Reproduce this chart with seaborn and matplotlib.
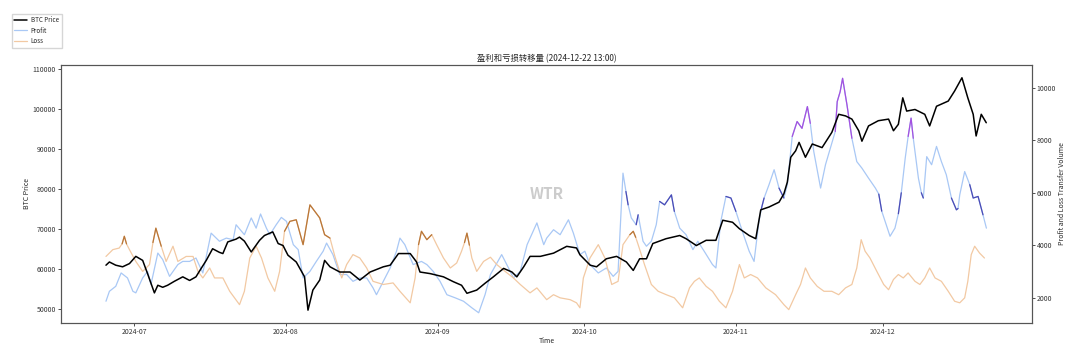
import numpy as np
import pandas as pd
import seaborn as sns
import matplotlib.pyplot as plt
import matplotlib.dates as mdates
from matplotlib.lines import Line2D

# time is given as days since 2024-07-01 00:00
price_day = [-5.8, -5.1, -3.8, -2.4, -1.0, 0.3, 1.7, 2.7, 4.1, 4.8, 5.8, 6.8, 8.2, 9.9, 11.3,
             12.6, 13.3, 14.7, 16.0, 17.4, 18.1, 19.1, 20.8, 21.5, 22.5, 23.9, 25.6, 26.6, 28.3,
             29.4, 30.4, 31.4, 33.1, 34.8, 35.5, 36.5, 37.9, 38.9, 40.0, 42.0, 44.1, 46.1, 48.2,
             50.9, 52.3, 54.0, 56.4, 57.7, 58.4, 60.5, 63.2, 65.2, 66.9, 68.0, 70.0, 71.7, 73.4,
             75.5, 77.2, 78.2, 79.6, 80.9, 83.0, 85.7, 88.4, 90.4, 91.1, 93.2, 94.5, 96.5, 98.6,
             100.6, 102.0, 103.3, 104.7, 106.0, 108.7, 111.5, 112.8, 114.9, 116.9, 118.9, 120.3,
             122.3, 123.7, 125.7, 127.05, 128.07, 129.76, 131.8, 132.8, 133.5, 134.2, 135.2, 135.9,
             137.2, 138.6, 140.6, 142.6, 144.0, 145.4, 146.7, 148.1, 148.75, 150.1, 152.1, 154.2,
             155.2, 156.2, 157.1, 157.9, 159.6, 161.6, 162.6, 164.0, 166.4, 167.7, 169.2, 170.4,
             171.5, 172.1, 173.15, 174.17]
price = [61000, 61800, 61000, 60600, 61400, 63200, 62200, 58900, 54100, 56000, 55500, 56000, 57000,
         58100, 57200, 58100, 59500, 62200, 65100, 64200, 63900, 66800, 67500, 68000, 67000, 64300,
         67200, 68400, 69300, 66400, 65900, 63500, 61800, 58100, 49800, 54800, 57300, 62200, 60600,
         59300, 59300, 57300, 59300, 60600, 61000, 63900, 63900, 61800, 59300, 58900, 58100, 56900,
         56000, 54000, 54800, 56500, 58100, 60200, 59300, 58100, 60600, 63200, 63200, 64000, 65700,
         65300, 63600, 61000, 60600, 62600, 63200, 61800, 59700, 62600, 62600, 66400, 67600, 68400,
         67600, 65900, 67200, 67200, 72200, 71700, 70100, 68400, 67600, 74800, 75500, 76700, 78800,
         81700, 87900, 89500, 91600, 87900, 91200, 90300, 94100, 98600, 98200, 97400, 94500, 91900,
         95700, 97000, 97400, 94500, 96100, 102700, 99400, 99800, 98600, 95700, 100600, 101900,
         104400, 107700, 102700, 98600, 93200, 98600, 96500]

profit_day = [-5.8, -5.1, -3.8, -2.7, -1.4, -0.3, 0.3, 1.7, 2.7, 3.4, 4.8, 5.8, 7.2, 8.9, 9.9,
              11.3, 12.6, 14.0, 15.7, 17.4, 18.8, 20.2, 20.8, 22.5, 23.9, 24.9, 25.8, 27.0, 27.7,
              29.0, 30.05, 31.1, 32.5, 33.5, 34.5, 35.9, 37.2, 38.6, 39.3, 40.6, 42.0, 43.4, 44.7,
              46.1, 47.5, 48.8, 49.5, 50.9, 52.3, 53.6, 54.3, 55.3, 57.0, 58.7, 59.8, 61.1, 62.5,
              63.9, 65.6, 67.3, 69.0, 70.4, 71.7, 72.8, 75.1, 76.5, 77.5, 78.9, 80.3, 82.3, 83.7,
              84.3, 85.7, 87.05, 88.75, 89.76, 91.1, 92.1, 93.15, 94.85, 96.5, 97.9, 98.9, 99.9,
              100.5, 100.95, 101.6, 102.6, 103.0, 104.0, 104.7, 105.7, 106.7, 107.4, 108.4, 109.8,
              110.4, 111.5, 112.8, 114.2, 115.2, 116.5, 118.2, 118.9, 119.9, 120.95, 121.97, 122.98,
              124.3, 125.7, 126.7, 127.7, 128.2, 128.75, 129.76, 130.8, 131.8, 132.8, 133.5, 134.5,
              135.5, 136.5, 137.6, 138.2, 138.9, 140.3, 141.3, 142.3, 143.3, 143.7, 144.3, 144.8,
              145.7, 146.7, 147.7, 148.75, 150.1, 151.5, 152.2, 152.8, 153.5, 154.5, 155.5, 156.2,
              156.8, 157.6, 158.2, 158.8, 159.25, 160.3, 160.9, 161.3, 162.0, 163.0, 164.0, 165.0,
              166.0, 167.05, 168.07, 168.4, 168.75, 169.76, 170.8, 171.5, 172.5, 173.5, 174.2]
profit = [1860, 2240, 2430, 2940, 2750, 2240, 2180, 2750, 3000, 2500, 3700, 3450, 2810, 3260, 3380,
          3380, 3510, 2940, 4460, 4150, 4270, 4210, 4780, 4400, 5040, 4650, 5190, 4650, 4400, 4780,
          5060, 4910, 4020, 3830, 2750, 3000, 3380, 3770, 4080, 3640, 2880, 2880, 2620, 2750, 2750,
          2370, 2110, 2620, 3130, 3770, 4270, 4020, 3260, 3380, 3260, 3000, 2620, 2110, 1990, 1860,
          1610, 1420, 2110, 2880, 3640, 3130, 2750, 3000, 4020, 4850, 4020, 4270, 4590, 4400, 4970,
          4460, 3640, 3770, 3260, 2940, 3130, 2810, 3000, 6750, 6050, 5540, 5040, 4780, 5160, 4150,
          3960, 4150, 4780, 5670, 5540, 5920, 5290, 4650, 4400, 3830, 4150, 3770, 3260, 3130, 4910,
          5860, 5800, 5290, 4530, 3770, 3380, 4910, 5400, 5800, 6310, 6880, 6180, 5800, 6310, 8150,
          8720, 8460, 9290, 8650, 7580, 6180, 7070, 7700, 8340, 9480, 9860, 10370, 9350, 8080, 7190,
          6940, 6560, 6180, 5950, 5300, 4910, 4340, 4650, 5200, 6000, 7320, 8150, 8850, 8080, 6560,
          6000, 5800, 7380, 7070, 7770, 7190, 6690, 5800, 5350, 5400, 5920, 6810, 6310, 5800, 5860,
          5160, 4650]

loss_day = [-5.8, -4.4, -3.1, -2.5, -2.05, -1.6, -1.0, 0.3, 1.7, 3.1, 3.8, 4.4, 5.5, 6.5, 7.9,
            8.9, 10.6, 12.0, 13.0, 14.0, 15.4, 16.4, 18.1, 19.5, 21.5, 22.5, 23.6, 24.9, 26.0, 27.3,
            28.7, 29.7, 30.7, 31.8, 33.1, 34.5, 35.9, 36.9, 37.9, 38.9, 40.0, 41.0, 42.4, 43.4, 44.7,
            46.1, 47.5, 48.8, 50.9, 52.9, 54.3, 56.4, 57.4, 58.1, 58.7, 59.8, 60.8, 61.8, 63.2, 64.6,
            65.9, 66.9, 67.5, 68.0, 68.5, 69.0, 70.0, 71.4, 72.8, 74.1, 75.8, 77.5, 78.9, 80.9, 82.3,
            84.3, 85.7, 87.05, 89.1, 90.4, 91.1, 91.8, 93.15, 94.85, 96.2, 97.6, 98.9, 99.9, 101.3,
            102.0, 102.5, 103.0, 104.3, 105.7, 107.1, 108.75, 110.4, 112.1, 113.5, 114.5, 115.5,
            116.9, 118.2, 119.6, 120.95, 122.3, 123.7, 124.7, 126.0, 127.4, 129.1, 131.1, 132.8,
            133.8, 135.2, 136.2, 137.2, 138.2, 139.6, 141.0, 142.6, 144.0, 145.4, 146.7, 147.7,
            148.6, 149.4, 150.4, 151.8, 153.2, 154.2, 155.2, 156.2, 157.2, 158.2, 159.6, 160.6,
            161.6, 162.6, 163.7, 165.0, 166.4, 167.7, 168.75, 169.76, 170.4, 171.1, 171.8, 172.8,
            173.8]
loss = [3570, 3830, 3890, 4050, 4340, 4050, 3830, 3380, 3000, 3260, 4100, 4650, 3960, 3380, 3960,
        3380, 3570, 3570, 3000, 2750, 3130, 2750, 2750, 2240, 1730, 2240, 3510, 3960, 3510, 2750,
        2240, 3000, 4530, 4910, 4970, 4020, 5540, 5290, 5040, 4400, 4270, 3570, 2750, 3260, 3640,
        3510, 3130, 2620, 2500, 2560, 2240, 1800, 2750, 4020, 4530, 4210, 4400, 4020, 3510, 3130,
        3320, 3770, 4100, 4460, 4000, 3510, 3000, 3380, 3540, 3260, 3000, 2750, 2500, 2180, 2370,
        1920, 2110, 1990, 1920, 1800, 1610, 2750, 3510, 4020, 3510, 2500, 2620, 4020, 4400, 4530,
        4300, 4020, 3260, 2500, 2240, 2110, 1990, 1610, 2370, 2620, 2750, 2430, 2240, 1860, 1610,
        2240, 3260, 2750, 2880, 2750, 2370, 2110, 1730, 1540, 2110, 2500, 3130, 2750, 2430, 2240,
        2240, 2110, 2370, 2500, 3130, 4210, 3770, 3510, 3000, 2500, 2300, 2690, 2880, 2750, 2940,
        2620, 2500, 2750, 3130, 2750, 2620, 2240, 1860, 1800, 1990, 2620, 3640, 3960, 3700, 3510]

# highlighted stretches (days since 2024-07-01)
profit_blue = [(100.4, 101.0), (102.6, 103.0), (107.0, 110.5), (120.5, 123.0), (128.2, 128.8),
               (131.8, 132.8), (152.2, 152.8), (156.2, 156.8), (160.9, 161.3), (166.8, 168.4),
               (170.8, 173.5)]
profit_purple = [(134.5, 138.2), (143.3, 146.7), (158.2, 159.25)]
loss_dark = [(-2.5, -1.6), (3.8, 5.5), (30.7, 40.0), (58.1, 60.8), (67.5, 68.5), (101.3, 102.5)]

start = pd.Timestamp("2024-07-01")
df_price = pd.DataFrame({"time": start + pd.to_timedelta(price_day, unit="D"), "value": price, "day": price_day})
df_profit = pd.DataFrame({"time": start + pd.to_timedelta(profit_day, unit="D"), "value": profit, "day": profit_day})
df_loss = pd.DataFrame({"time": start + pd.to_timedelta(loss_day, unit="D"), "value": loss, "day": loss_day})

sns.set_theme(style="white")
plt.rcParams['font.family'] = ['Noto Sans CJK SC', 'DejaVu Sans']
plt.rcParams['axes.unicode_minus'] = False

fig = plt.figure(figsize=(10.66, 3.51), dpi=100)
ax = fig.add_axes([0.0572, 0.0798, 0.9108, 0.7352])
ax2 = ax.twinx()

c_profit = "#a9c8f5"
c_loss = "#f2c9a3"

sns.lineplot(data=df_profit, x="time", y="value", color=c_profit, lw=0.9, ax=ax2, legend=False)
sns.lineplot(data=df_loss, x="time", y="value", color=c_loss, lw=0.9, ax=ax2, legend=False)
for lo, hi in profit_blue:
    seg = df_profit[(df_profit.day >= lo) & (df_profit.day <= hi)]
    sns.lineplot(data=seg, x="time", y="value", color="#4b4bb5", lw=0.9, ax=ax2, legend=False)
for lo, hi in profit_purple:
    seg = df_profit[(df_profit.day >= lo) & (df_profit.day <= hi)]
    sns.lineplot(data=seg, x="time", y="value", color="#a450e0", lw=0.9, ax=ax2, legend=False)
for lo, hi in loss_dark:
    seg = df_loss[(df_loss.day >= lo) & (df_loss.day <= hi)]
    sns.lineplot(data=seg, x="time", y="value", color="#b87638", lw=0.9, ax=ax2, legend=False)

sns.lineplot(data=df_price, x="time", y="value", color="black", lw=1.1, ax=ax, legend=False)
ax.set_zorder(ax2.get_zorder() + 1)
ax.patch.set_visible(False)

ax.set_ylim(46600, 110900)
ax2.set_ylim(1030, 10880)
ax.set_xlim(pd.Timestamp("2024-06-16"), pd.Timestamp("2024-12-31 12:00"))

ax.xaxis.set_major_locator(mdates.MonthLocator())
ax.xaxis.set_major_formatter(mdates.DateFormatter("%Y-%m"))
ax.set_yticks([50000, 60000, 70000, 80000, 90000, 100000, 110000])
ax2.set_yticks([2000, 4000, 6000, 8000, 10000])

for a in (ax, ax2):
    a.tick_params(labelsize=5, length=2, width=0.6, pad=1.5, colors="#333333")
    for s in a.spines.values():
        s.set_color("#555555")
        s.set_linewidth(0.8)
ax.tick_params(axis="both", which="both", bottom=True, left=True)
ax2.tick_params(axis="y", right=True)

ax.set_xlabel("Time", fontsize=5, labelpad=1)
ax.set_ylabel("BTC Price", fontsize=5, labelpad=1)
ax2.set_ylabel("Profit and Loss Transfer Volume", fontsize=5, labelpad=1)
ax.set_title("盈利和亏损转移量 (2024-12-22 13:00)", fontsize=6, pad=3)

ax.text(0.5, 0.5, "WTR", transform=ax.transAxes, fontsize=11, fontweight="bold",
        color="#cccccc", ha="center", va="center")

handles = [Line2D([], [], color="black", lw=1.1),
           Line2D([], [], color=c_profit, lw=0.9),
           Line2D([], [], color=c_loss, lw=0.9)]
fig.legend(handles, ["BTC Price", "Profit", "Loss"], loc="upper left",
           bbox_to_anchor=(0.008, 0.97), fontsize=4.5, frameon=True,
           edgecolor="#cccccc", fancybox=False, handlelength=2.0, borderpad=0.45,
           labelspacing=0.35, handletextpad=0.6)

fig.savefig("out.png", dpi=100)
